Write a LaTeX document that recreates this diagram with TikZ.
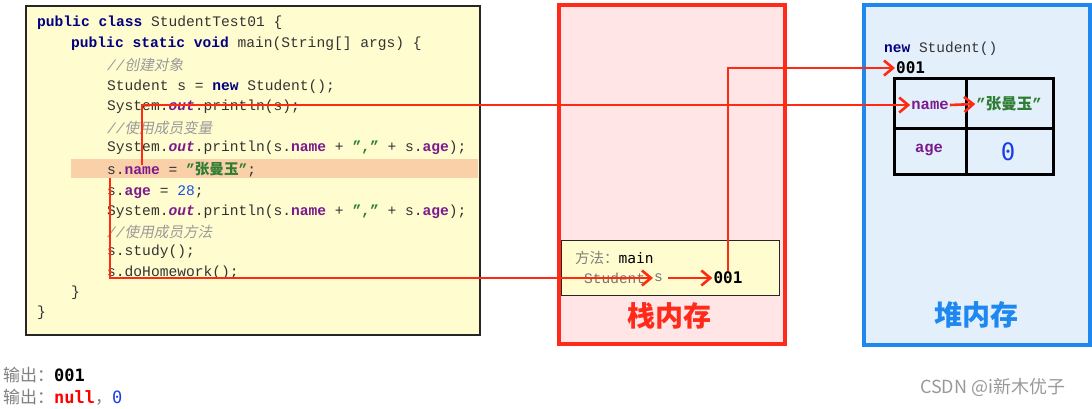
\documentclass[tikz,border=0pt]{standalone}
\usepackage{fontspec}
\setmainfont{Liberation Mono}
\newfontfamily\cjk{Noto Sans CJK SC}
\newfontfamily\cjkit[FakeSlant=0.2]{Noto Sans CJK SC}
\newfontfamily\dmono{DejaVu Sans Mono}
\usetikzlibrary{arrows.meta}
\definecolor{kw}{HTML}{000080}
\definecolor{fld}{HTML}{7A1A8C}
\definecolor{strg}{HTML}{2E7D32}
\definecolor{num}{HTML}{1750EB}
\definecolor{cmt}{HTML}{9A9A9A}
\definecolor{codetxt}{HTML}{333333}
\definecolor{codebg}{HTML}{FFFCD0}
\definecolor{hl}{HTML}{FAD0A8}
\definecolor{stackred}{HTML}{FF2A1A}
\definecolor{stackbg}{HTML}{FFE5E5}
\definecolor{heapblue}{HTML}{1E88F0}
\definecolor{heapbg}{HTML}{E3EFFB}
\definecolor{arrred}{HTML}{FF2A12}
\definecolor{zeroblue}{HTML}{1A3CE8}
\newcommand\kw[1]{\textcolor{kw}{\bfseries #1}}
\newcommand\fd[1]{\textcolor{fld}{\bfseries #1}}
\newcommand\outk{\textcolor{fld}{\bfseries\itshape out}}
\newcommand\st[1]{\textcolor{strg}{\bfseries #1}}
\newcommand\zh[1]{{\cjk #1}}
\newcommand\cm[1]{\textcolor{cmt}{\itshape //\cjkit #1}}
\begin{document}
\begin{tikzpicture}[x=1pt,y=-1pt,
  codeline/.style={anchor=west,inner sep=0,text=codetxt,font=\fontsize{14.6}{17}\selectfont},
  arr/.style={draw=arrred,line width=2.6,-{Straight Barb[length=9pt,width=15pt,line width=2.6pt]}},
  cell/.style={draw=black,line width=3,anchor=north west,inner sep=0},
  lbl/.style={font=\cjk\bfseries\fontsize{28}{30}\selectfont}]
\useasboundingbox (0,0) rectangle (1092,408);
% code box
\node[draw=black!85,line width=2,fill=codebg,anchor=north west,minimum width=454,minimum height=329,inner sep=0] (codebox) at (25,5) {};
\fill[hl] (71,159) rectangle (478,178);
\node[codeline] (l1) at (37,23) {\kw{public} \kw{class} StudentTest01 \{};
\node[codeline] (l2) at (71,44) {\kw{public} \kw{static} \kw{void} main(String[] args) \{};
\node[codeline] (l3) at (107,65) {\cm{创建对象}};
\node[codeline] (l4) at (107,87) {Student s = \kw{new} Student();};
\node[codeline] (l5) at (107,107) {System.\outk.println(s);};
\node[codeline] (l6) at (107,128) {\cm{使用成员变量}};
\node[codeline] (l7) at (107,148) {System.\outk.println(s.\fd{name} + \st{","} + s.\fd{age});};
\node[codeline] (l8) at (107,170) {s.\fd{name} = \st{"\zh{张曼玉}"};};
\node[codeline] (l9) at (107,192) {s.\fd{age} = \textcolor{num}{28};};
\node[codeline] (l10) at (107,212) {System.\outk.println(s.\fd{name} + \st{","} + s.\fd{age});};
\node[codeline] (l11) at (107,232) {\cm{使用成员方法}};
\node[codeline] (l12) at (107,252) {s.study();};
\node[codeline] (l13) at (107,273) {s.doHomework();};
\node[codeline] (l14) at (71,293) {\}};
\node[codeline] (l15) at (37,313) {\}};
% stack
\node[draw=stackred,line width=3.5,fill=stackbg,anchor=north west,minimum width=226,minimum height=339,inner sep=0] (stack) at (557,3) {};
\node[draw=black!85,line width=1.3,fill=codebg,anchor=north west,minimum width=218,minimum height=55,inner sep=0] (frame) at (561,240) {};
\node[anchor=west,inner sep=0,font=\fontsize{14.5}{16}\selectfont] (meth) at (575,258) {\textcolor{gray}{\cjk 方法：}{\dmono main}};
\node[anchor=west,inner sep=0,text=black!55,font=\fontsize{14.5}{16}\selectfont] (stud) at (584,278) {Student};
\node[anchor=west,inner sep=1,text=black!55,font=\fontsize{14.5}{16}\selectfont] (svar) at (653,278) {s};
\node[inner sep=1,font=\dmono\bfseries\fontsize{16}{18}\selectfont] (s001) at (728,278) {001};
\node[lbl,text=stackred] (stacklbl) at (669,316) {栈内存};
% heap
\node[draw=heapblue,line width=3.5,fill=heapbg,anchor=north west,minimum width=226,minimum height=340,inner sep=0] (heap) at (862,3) {};
\node[anchor=west,inner sep=0,text=codetxt,font=\fontsize{14.5}{16}\selectfont] (newst) at (884,49) {\kw{new} Student()};
\node[anchor=west,inner sep=1,font=\dmono\bfseries\fontsize{16}{18}\selectfont] (h001) at (895,68) {001};
\node[cell,minimum width=72,minimum height=50] (cname) at (893,77) {};
\node[cell,minimum width=87,minimum height=50] (cval) at (965,77) {};
\node[cell,minimum width=72,minimum height=46] (cage) at (893,127) {};
\node[cell,minimum width=87,minimum height=46] (czero) at (965,127) {};
\node[inner sep=1,font=\bfseries\fontsize{15.5}{17}\selectfont,text=fld] (nametxt) at (930,105) {name};
\node[inner sep=1,font=\fontsize{15.5}{17}\selectfont] (valtxt) at (1009,104) {\st{"\zh{张曼玉}"}};
\node[inner sep=1,font=\bfseries\fontsize{15.5}{17}\selectfont,text=fld] (agetxt) at (929,150) {age};
\node[inner sep=1,font=\dmono\fontsize{24}{26}\selectfont,text=zeroblue] (zerotxt) at (1008,152) {0};
\node[lbl,text=heapblue] (heaplbl) at (976,315) {堆内存};
% connectors
\coordinate (c1) at (142,165);
\coordinate (c2) at (110,178);
\draw[arr] (s001.north) |- (h001.west);
\draw[arr] (c1) |- (nametxt.west);
\draw[arr] (nametxt.east) -- (valtxt.west);
\draw[arr] (c2) |- (svar.west);
\draw[arr] ([xshift=4pt]svar.east) -- (s001.west);
% output
\node[anchor=west,inner sep=0,font=\fontsize{17}{19}\selectfont] (out1) at (3,375) {\textcolor{gray}{\cjk 输出：}{\dmono\bfseries 001}};
\node[anchor=west,inner sep=0,font=\fontsize{17}{19}\selectfont] (out2) at (3,397) {\textcolor{gray}{\cjk 输出：}\textcolor{red}{\dmono\bfseries null}\textcolor{gray}{\cjk ，}\textcolor{zeroblue}{\dmono 0}};
\node[anchor=west,inner sep=0,text=gray!80,font=\cjk\fontsize{18}{20}\selectfont] (wm) at (920,387) {CSDN @i新木优子};
\end{tikzpicture}
\end{document}
